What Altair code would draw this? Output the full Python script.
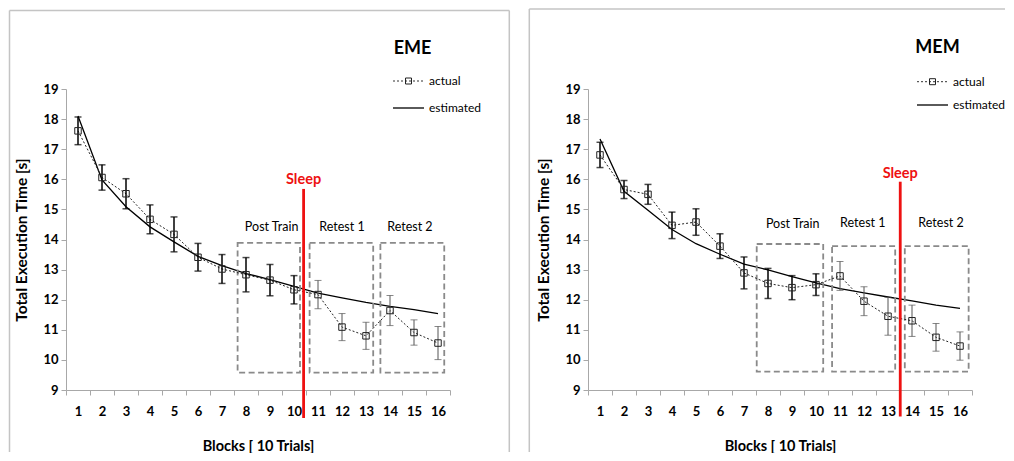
import altair as alt
import pandas as pd

# ---------------- data ----------------
blocks = list(range(1, 17))

eme_actual = [17.61, 16.06, 15.52, 14.67, 14.17, 13.41, 13.02, 12.83, 12.65, 12.33,
              12.17, 11.09, 10.80, 11.64, 10.91, 10.56]
eme_err = [0.46, 0.42, 0.50, 0.48, 0.58, 0.46, 0.48, 0.57, 0.52, 0.47,
           0.47, 0.45, 0.45, 0.50, 0.42, 0.55]
eme_estimated = [18.10, 15.98, 15.09, 14.42, 13.92, 13.44, 13.13, 12.87, 12.67, 12.44,
                 12.22, 12.06, 11.91, 11.78, 11.67, 11.54]

mem_actual = [16.81, 15.66, 15.50, 14.47, 14.58, 13.78, 12.89, 12.54, 12.40, 12.50,
              12.79, 11.95, 11.45, 11.30, 10.75, 10.46]
mem_err = [0.42, 0.30, 0.33, 0.44, 0.44, 0.41, 0.53, 0.50, 0.40, 0.36,
           0.48, 0.48, 0.63, 0.52, 0.46, 0.47]
mem_estimated = [17.34, 15.60, 14.97, 14.33, 13.86, 13.51, 13.18, 12.99, 12.77, 12.56,
                 12.37, 12.23, 12.09, 11.96, 11.82, 11.71]

region_names = ["Post Train", "Retest 1", "Retest 2"]
eme_region_start = [7.65, 10.65, 13.60]
eme_region_end = [10.25, 13.30, 16.26]
eme_region_top = [13.89, 13.89, 13.89]
eme_region_bottom = [9.58, 9.58, 9.58]
eme_label_x = [9.07, 12.00, 14.83]
eme_label_y = [14.43, 14.43, 14.43]

mem_region_start = [7.53, 10.67, 13.70]
mem_region_end = [10.30, 13.30, 16.36]
mem_region_top = [13.85, 13.78, 13.78]
mem_region_bottom = [9.61, 9.61, 9.61]
mem_label_x = [9.03, 11.95, 15.21]
mem_label_y = [14.50, 14.56, 14.56]

# sleep marker: x position, line top, line bottom, label y
eme_sleep = [10.40, 15.68, 8.07, 15.98]
mem_sleep = [13.51, 15.92, 8.12, 16.18]

x_tick_values = [0.5 + i for i in range(17)]
y_tick_values = list(range(9, 20))

FONT = "Lato"
W, H = 384, 301
XDOM = [0.5, 16.5]
YDOM = [9, 19]


def panel(name, actual, err, est, sleep, r_start, r_end, r_top, r_bottom, l_x, l_y, deco):
    df = pd.DataFrame({
        "block": blocks,
        "actual": actual,
        "lo": [a - e for a, e in zip(actual, err)],
        "hi": [a + e for a, e in zip(actual, err)],
        "estimated": est,
    })
    reg = pd.DataFrame({"name": region_names, "start": r_start, "end": r_end,
                        "top": r_top, "bottom": r_bottom, "lx": l_x, "ly": l_y})
    sl = pd.DataFrame({"x": [sleep[0]], "top": [sleep[1]], "bottom": [sleep[2]],
                       "ly": [sleep[3]], "label": ["Sleep"]})
    one = alt.Data(values=[{"k": 0}])

    xs = alt.Scale(domain=XDOM, nice=False, zero=False)
    ys = alt.Scale(domain=YDOM, nice=False, zero=False)

    x_axis = alt.Axis(
        values=x_tick_values, title="Blocks [ 10 Trials]", grid=False,
        labelExpr="datum.value < 16 ? format(datum.value + 0.5, 'd') : ''",
        labelOffset=12, labelFlush=False, labelOverlap=False,
        tickSize=5, labelPadding=10, titlePadding=21, titleFontSize=14.5)
    y_axis = alt.Axis(
        values=y_tick_values, title="Total Execution Time [s]", grid=False,
        labelFlush=False, labelOverlap=False, tickSize=5, labelPadding=3,
        titlePadding=13)

    def X(f):
        return alt.X(f, scale=xs, axis=x_axis)

    def Y(f):
        return alt.Y(f, scale=ys, axis=y_axis)

    est_line = alt.Chart(df).mark_line(color="#000", strokeWidth=1.3).encode(
        x=X("block:Q"), y=Y("estimated:Q"))

    boxes = alt.Chart(reg).mark_rect(fillOpacity=0, stroke="#8a8a8a", strokeWidth=1.8,
                                     strokeDash=[6, 3.5]).encode(
        x=X("start:Q"), x2="end:Q", y=Y("top:Q"), y2="bottom:Q")
    box_labels = alt.Chart(reg).mark_text(font=FONT, fontSize=12.5, color="#000",
                                          baseline="middle", align="center").encode(
        x=X("lx:Q"), y=Y("ly:Q"), text="name:N")

    act_line = alt.Chart(df).mark_line(color="#222", strokeWidth=1, strokeDash=[2, 2]).encode(
        x=X("block:Q"), y=Y("actual:Q"))

    err_train = alt.Chart(df).transform_filter(alt.datum.block <= 10).mark_rule(
        color="#000", strokeWidth=1.5).encode(x=X("block:Q"), y=Y("lo:Q"), y2="hi:Q")
    err_test = alt.Chart(df).transform_filter(alt.datum.block > 10).mark_rule(
        color="#555", strokeWidth=1).encode(x=X("block:Q"), y=Y("lo:Q"), y2="hi:Q")
    caps_train = alt.Chart(df).transform_filter(alt.datum.block <= 10).transform_fold(
        ["lo", "hi"]).mark_tick(orient="horizontal", size=7, thickness=1.5, color="#000").encode(
        x=X("block:Q"), y=Y("value:Q"))
    caps_test = alt.Chart(df).transform_filter(alt.datum.block > 10).transform_fold(
        ["lo", "hi"]).mark_tick(orient="horizontal", size=7, thickness=1, color="#555").encode(
        x=X("block:Q"), y=Y("value:Q"))

    markers = alt.Chart(df).mark_point(shape="square", size=42, filled=False, color="#222",
                                       strokeWidth=1, opacity=1).encode(
        x=X("block:Q"), y=Y("actual:Q"))

    sleep_rule = alt.Chart(sl).mark_rule(color="#ee1111", strokeWidth=2.8).encode(
        x=X("x:Q"), y=Y("top:Q"), y2="bottom:Q")
    sleep_text = alt.Chart(sl).mark_text(font=FONT, fontSize=14.5, fontWeight="bold",
                                         color="#ee1111", baseline="middle").encode(
        x=X("x:Q"), y=Y("ly:Q"), text="label:N")

    # decorations (title, legend, frame) in pixels relative to the plot area
    d = deco
    title = alt.Chart(one).mark_text(text=name, font=FONT, fontSize=18, fontWeight="bold",
                                     color="#000", align="left", baseline="middle").encode(
        x=alt.value(d["tx"]), y=alt.value(d["ty"]))
    leg_act_line = alt.Chart(one).mark_rule(color="#333", strokeWidth=1, strokeDash=[2, 2]).encode(
        x=alt.value(d["lx0"]), x2=alt.value(d["lx1"]), y=alt.value(d["ly0"]))
    leg_act_sq = alt.Chart(one).mark_point(shape="square", size=36, filled=False, color="#222",
                                           strokeWidth=1, opacity=1).encode(
        x=alt.value((d["lx0"] + d["lx1"]) / 2), y=alt.value(d["ly0"]))
    leg_est_line = alt.Chart(one).mark_rule(color="#000", strokeWidth=1.3).encode(
        x=alt.value(d["lx0"]), x2=alt.value(d["lx1"]), y=alt.value(d["ly1"]))
    leg_act_txt = alt.Chart(one).mark_text(text="actual", font=FONT, fontSize=12, color="#000",
                                           align="left", baseline="middle").encode(
        x=alt.value(d["ltx"]), y=alt.value(d["ly0"]))
    leg_est_txt = alt.Chart(one).mark_text(text="estimated", font=FONT, fontSize=12, color="#000",
                                           align="left", baseline="middle").encode(
        x=alt.value(d["ltx"]), y=alt.value(d["ly1"]))
    frame_left = alt.Chart(one).mark_rule(color="#c4c4c4", strokeWidth=1.5).encode(
        x=alt.value(d["fx0"]), y=alt.value(d["fy0"]), y2=alt.value(d["fy1"]))
    frame_top = alt.Chart(one).mark_rule(color="#c4c4c4", strokeWidth=1.5).encode(
        x=alt.value(d["fx0"]), x2=alt.value(d["fx1"]), y=alt.value(d["fy0"]))
    layers = [est_line, boxes, box_labels, act_line, err_train, err_test, caps_train,
              caps_test, markers, sleep_rule, sleep_text, title, leg_act_line, leg_act_sq,
              leg_est_line, leg_act_txt, leg_est_txt, frame_left, frame_top]
    if "fright" in d:
        frame_right = alt.Chart(one).mark_rule(color="#c4c4c4", strokeWidth=1.5).encode(
            x=alt.value(d["fright"]), y=alt.value(d["fy0"]), y2=alt.value(d["fy1"]))
        layers.append(frame_right)
    return alt.layer(*layers).properties(width=W, height=H)


eme_deco = dict(tx=327.7, ty=-40, lx0=327, lx1=358, ly0=-8, ly1=19, ltx=363,
                fx0=-56.5, fx1=443.3, fy0=-78.5, fy1=363, fright=443.3)
mem_deco = dict(tx=327.3, ty=-40.7, lx0=329, lx1=360, ly0=-7.3, ly1=16, ltx=365,
                fx0=-58.7, fx1=417, fy0=-80, fy1=363)

left = panel("EME", eme_actual, eme_err, eme_estimated, eme_sleep, eme_region_start,
             eme_region_end, eme_region_top, eme_region_bottom, eme_label_x, eme_label_y, eme_deco)
right = panel("MEM", mem_actual, mem_err, mem_estimated, mem_sleep, mem_region_start,
              mem_region_end, mem_region_top, mem_region_bottom, mem_label_x, mem_label_y, mem_deco)

chart = alt.hconcat(left, right, spacing=138, bounds="flush", padding=0).configure_view(
    strokeWidth=0
).configure_axis(
    domainColor="#a8a8a8", tickColor="#a8a8a8", domainWidth=1, tickWidth=1,
    labelFont=FONT, labelFontSize=13, labelFontWeight="bold", labelColor="#000",
    titleFont=FONT, titleFontSize=15.5, titleFontWeight="bold", titleColor="#000"
)

chart.save("out.html", embed_options={"renderer": "svg", "actions": False})
